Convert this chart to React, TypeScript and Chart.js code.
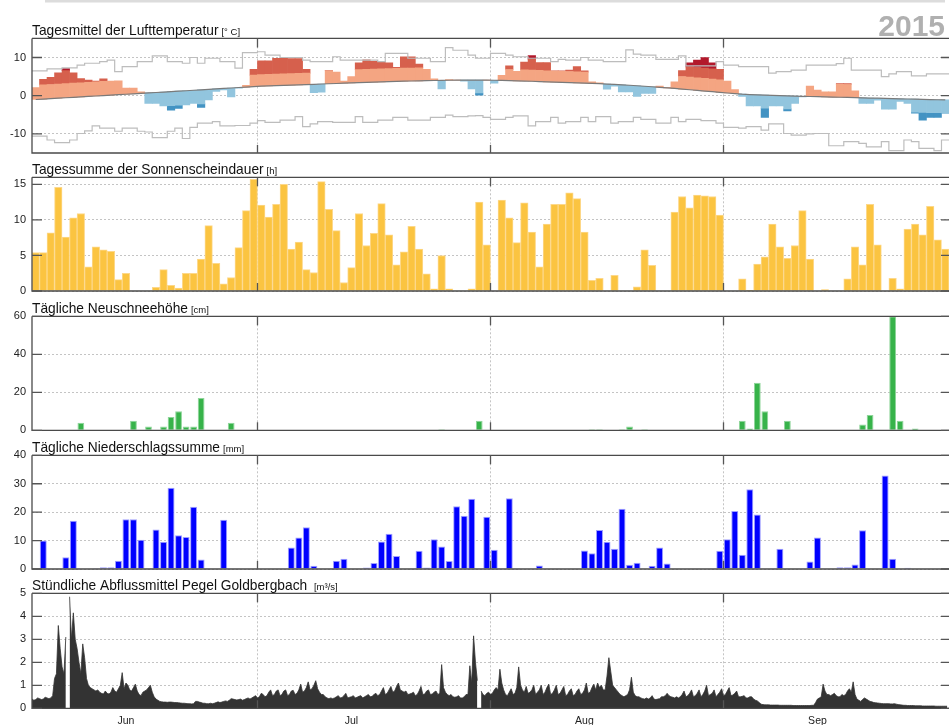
import React, { useEffect, useRef } from 'react';
import { Chart, registerables } from 'chart.js';

Chart.register(...registerables);

const FONT = '"Liberation Sans", Arial, Helvetica, sans-serif';
Chart.defaults.font.family = FONT;

// ---------- axis / calendar ----------
const DAY_COUNT = 122; // 20 May .. 18 Sep 2015
const GRID_DAYS = [30, 61, 92];
const MONTH_LABELS = ['Jun', 'Jul', 'Aug', 'Sep'];
const MONTH_FIRST_DAY = [12, 42, 73, 104];
const YEAR_LABEL = '2015';

// ---------- temperature (°C) ----------
const TEMP_MEAN = [
  2.1, 4.3, 4.8, 6.0, 7.1, 6.0, 4.5, 4.1, 3.8, 4.4,
  3.8, 3.9, 2.0, 2.0, 1.0, -2.0, -2.0, -2.7, -3.8, -3.3,
  -2.4, -2.0, -3.1, -1.1, 1.1, 1.5, -0.3, 2.0, 2.7, 6.9,
  9.1, 9.1, 9.8, 9.9, 9.7, 9.7, 6.9, 0.8, 0.9, 6.6,
  6.2, 3.8, 5.0, 8.6, 9.4, 9.0, 8.9, 8.6, 7.4, 10.2,
  10.2, 8.3, 6.9, 4.4, 1.8, 4.2, 4.1, 3.8, 1.8, 0.0,
  4.1, 3.3, 5.3, 7.8, 6.4, 8.8, 10.5, 8.7, 8.7, 6.5,
  6.5, 6.7, 7.6, 6.5, 3.6, 3.4, 1.7, 2.5, 1.0, 1.0,
  -0.2, 0.6, 0.6, 2.5, 2.2, 3.6, 6.6, 8.6, 9.3, 10.0,
  8.6, 6.9, 3.8, 1.6, -0.2, -2.7, -2.7, -5.7, -2.7, -2.7,
  -4.0, -2.0, -0.3, 2.5, 1.5, 1.0, 1.0, 3.2, 3.2, 1.3,
  -2.0, -2.0, -1.2, -3.5, -3.5, -1.5, -2.0, -4.6, -6.4, -5.7,
  -5.7, -4.6,
];
const TEMP_NORMAL = [
  -1.0, -0.88, -0.77, -0.65, -0.54, -0.42, -0.31, -0.19, -0.08, 0.04,
  0.15, 0.27, 0.38, 0.5, 0.61, 0.73, 0.84, 0.96, 1.07, 1.19,
  1.3, 1.42, 1.54, 1.66, 1.78, 1.9, 2.02, 2.14, 2.26, 2.38,
  2.5, 2.57, 2.64, 2.71, 2.78, 2.85, 2.92, 2.99, 3.06, 3.13,
  3.2, 3.27, 3.34, 3.41, 3.48, 3.55, 3.62, 3.68, 3.74, 3.8,
  3.85, 3.9, 3.94, 3.98, 4.02, 4.05, 4.08, 4.1, 4.1, 4.1,
  4.08, 4.05, 4.0, 3.95, 3.9, 3.84, 3.78, 3.71, 3.64, 3.57,
  3.5, 3.43, 3.36, 3.29, 3.22, 3.14, 3.05, 2.95, 2.84, 2.73,
  2.6, 2.47, 2.34, 2.2, 2.05, 1.9, 1.73, 1.56, 1.39, 1.22,
  1.05, 0.88, 0.71, 0.55, 0.4, 0.3, 0.22, 0.15, 0.08, 0.02,
  -0.04, -0.1, -0.16, -0.21, -0.26, -0.31, -0.36, -0.41, -0.46, -0.51,
  -0.56, -0.61, -0.66, -0.71, -0.76, -0.81, -0.86, -0.91, -0.96, -1.01,
  -1.06, -1.11,
];
const TEMP_UPPER = [
  6.5, 6.5, 7.0, 7.0, 7.3, 7.3, 8.0, 8.5, 8.5, 8.9,
  9.3, 6.3, 7.6, 7.6, 8.9, 8.9, 10.4, 10.4, 8.9, 8.9,
  8.5, 10.0, 8.5, 9.8, 9.8, 8.9, 8.9, 7.2, 11.3, 11.3,
  11.5, 10.6, 10.6, 10.0, 10.0, 10.0, 9.3, 8.9, 8.9, 8.9,
  10.2, 9.3, 9.3, 9.3, 9.3, 9.3, 8.9, 11.1, 11.1, 11.1,
  9.8, 9.8, 9.8, 8.9, 8.9, 12.6, 11.9, 11.9, 10.6, 9.8,
  9.8, 11.1, 11.1, 10.6, 10.2, 10.2, 9.8, 9.8, 9.8, 8.9,
  9.5, 9.3, 9.3, 10.0, 9.3, 9.3, 8.9, 8.9, 8.9, 12.0,
  10.9, 10.6, 10.6, 9.5, 9.5, 9.5, 10.4, 7.8, 7.8, 7.8,
  7.8, 8.9, 8.0, 8.0, 7.6, 7.6, 7.6, 7.6, 5.9, 6.3,
  6.3, 6.7, 6.7, 8.0, 8.0, 8.0, 8.0, 8.4, 9.8, 6.7,
  6.7, 6.7, 6.7, 5.0, 5.7, 6.3, 6.3, 5.2, 5.2, 5.7,
  5.7, 5.7,
];
const TEMP_LOWER = [
  -10.6, -10.6, -11.6, -12.3, -12.3, -11.6, -9.9, -9.2, -7.9, -8.5,
  -8.5, -9.3, -8.5, -8.5, -9.3, -9.5, -11.0, -11.0, -9.3, -8.5,
  -11.2, -8.3, -7.2, -7.2, -6.8, -7.9, -7.9, -7.8, -7.8, -7.2,
  -6.5, -7.0, -7.0, -6.4, -6.4, -5.5, -8.1, -7.4, -6.8, -6.8,
  -7.0, -7.0, -7.0, -5.5, -7.0, -7.0, -6.4, -6.4, -5.7, -5.7,
  -6.4, -6.4, -6.4, -5.7, -5.7, -5.1, -5.5, -5.5, -5.3, -5.2,
  -5.7, -6.2, -6.2, -5.7, -5.3, -5.3, -7.9, -6.8, -6.8, -5.7,
  -7.2, -6.8, -6.8, -5.7, -6.8, -5.5, -5.5, -7.2, -6.8, -6.8,
  -5.7, -6.2, -6.2, -7.2, -7.2, -5.7, -6.8, -6.2, -6.2, -6.5,
  -6.5, -7.2, -8.3, -8.3, -8.5, -8.1, -8.1, -9.0, -7.4, -7.4,
  -9.9, -10.3, -10.3, -10.0, -9.9, -9.9, -13.1, -13.1, -12.0, -12.0,
  -12.5, -13.4, -13.4, -12.0, -14.4, -14.4, -11.6, -12.0, -13.8, -13.8,
  -14.4, -11.6,
];
// anomaly colour bands (inner / outer distance from the normal)
const BAND_START = [0, 28, 38, 61, 81, 96];
const BAND_INNER = [3.7, 3.0, 3.4, 2.9, 3.3, 3.4];
const BAND_OUTER = [7.1, 7.5, 7.5, 5.8, 6.0, 6.8];

// ---------- sunshine (h) ----------
const SUNSHINE = [
  5.4, 5.4, 8.2, 14.6, 7.6, 10.3, 10.9, 3.4, 6.2, 5.8,
  5.6, 1.6, 2.5, 0, 0, 0, 0.5, 3.0, 0.8, 0.4,
  2.5, 2.5, 4.5, 9.2, 3.9, 1.0, 1.9, 6.1, 11.3, 15.7,
  12.1, 10.4, 12.2, 15.0, 5.9, 6.9, 3.0, 2.6, 15.4, 11.5,
  8.5, 1.2, 3.3, 10.9, 6.4, 8.1, 12.3, 7.9, 3.7, 5.5,
  9.1, 5.9, 2.4, 0.3, 5.0, 0.3, 0, 0, 0.3, 12.5,
  6.5, 0, 12.8, 10.3, 6.8, 12.4, 8.3, 3.4, 9.4, 12.2,
  12.2, 13.8, 13.0, 8.3, 1.5, 1.8, 0, 2.2, 0, 0,
  0.6, 5.8, 3.6, 0, 0, 11.1, 13.3, 11.7, 13.5, 13.4,
  13.3, 10.7, 0, 0, 1.7, 0.1, 3.8, 4.8, 9.4, 6.2,
  4.6, 6.4, 11.3, 4.5, 0, 0.2, 0, 0, 1.7, 6.2,
  3.7, 12.2, 6.5, 0, 1.8, 0.3, 8.7, 9.4, 7.9, 11.9,
  7.2, 5.9,
];

// ---------- new snow (cm) ----------
const NEW_SNOW = [
  0, 0, 0, 0, 0, 0, 4, 0, 0, 0,
  0, 0, 0, 5, 0, 2, 0, 2, 7, 10,
  2, 2, 17, 0, 0, 0, 4, 0, 0, 0,
  0, 0, 0, 0, 0, 0, 0, 0, 0, 0,
  0, 0, 0, 0, 0, 0, 0, 0, 0, 0,
  0, 0, 0, 0, 0.5, 0, 0, 0, 0, 5,
  0, 0, 0, 0, 0, 0, 0, 0, 0, 0,
  0, 0, 0, 0, 0.5, 0.5, 0, 0, 0.5, 2,
  0, 0.5, 0, 0, 0, 0, 0, 0, 0, 0,
  0, 0, 0, 0, 5, 1, 25, 10, 0, 0,
  5, 0, 0, 0, 0, 0, 0, 0, 0, 0,
  3, 8, 0, 0, 60, 5, 0, 1, 0, 0,
  0, 0,
];

// ---------- precipitation (mm) ----------
const PRECIP = [
  0, 10.0, 0.2, 0, 4.1, 17.0, 0, 0, 0.3, 0.6,
  0.6, 2.9, 17.5, 17.5, 10.3, 0, 13.9, 9.6, 28.6, 11.9,
  11.3, 21.9, 3.3, 0, 0, 17.3, 0.2, 0, 0, 0,
  0, 0, 0, 0, 7.6, 11.1, 14.7, 1.1, 0, 0.2,
  2.9, 3.6, 0.2, 0, 0.5, 2.1, 9.7, 12.4, 4.6, 0,
  0, 6.4, 0.5, 10.5, 7.9, 2.8, 22.1, 18.7, 24.7, 0,
  18.4, 6.8, 0, 24.9, 0, 0, 0, 1.2, 0, 0,
  0, 0, 0, 6.5, 5.5, 13.7, 9.6, 7.1, 21.2, 1.5,
  2.2, 0, 1.1, 7.6, 1.9, 0, 0, 0, 0, 0,
  0, 6.4, 10.5, 20.4, 5.0, 28.1, 19.2, 0, 0, 7.1,
  0, 0, 0, 2.6, 11.1, 0, 0, 0.6, 0.6, 1.6,
  13.6, 0, 0, 32.9, 3.6, 0, 0.4, 0, 0, 0,
  0, 0,
];

// ---------- discharge (m³/s), 4 values per day (00, 06, 12, 18 h) ----------
const DISCHARGE_6H = [
  0.4, 0.35, 0.38, 0.45, 0.42, 0.38, 0.4, 0.48, 0.45, 0.42, 0.45, 0.55,
  1.3, 1.5, 3.6, 2.6, 1.8, 1.5, 3.1, null, 4.85, 3.0, 4.15, 3.0,
  2.6, 2.0, 1.5, 2.8, 2.2, 1.3, 1.0, 0.9, 0.85, 0.8, 0.75, 0.8,
  0.7, 0.65, 0.62, 0.75, 0.65, 0.62, 0.7, 0.9, 0.75, 0.7, 0.85, 1.0,
  1.55, 0.85, 1.1, 1.0, 0.8, 0.75, 0.9, 1.05, 0.75, 0.6, 0.55, 0.7,
  0.75, 0.8, 0.9, 1.0, 0.7, 0.5, 0.4, 0.35, 0.3, 0.28, 0.27, 0.27,
  0.26, 0.27, 0.27, 0.26, 0.25, 0.25, 0.24, 0.23, 0.22, 0.22, 0.21, 0.2,
  0.2, 0.19, 0.2, 0.3, 0.3, 0.27, 0.25, 0.22, 0.22, 0.2, 0.2, 0.22,
  0.2, 0.22, 0.25, 0.28, 0.25, 0.27, 0.3, 0.32, 0.3, 0.35, 0.42, 0.4,
  0.38, 0.36, 0.38, 0.4, 0.35, 0.38, 0.42, 0.45, 0.4, 0.45, 0.5, 0.55,
  0.45, 0.5, 0.65, 0.6, 0.5, 0.55, 0.7, 0.8, 0.55, 0.6, 0.75, 0.8,
  0.55, 0.6, 0.75, 0.8, 0.55, 0.6, 0.75, 0.78, 0.6, 0.65, 0.8, 1.05,
  0.7, 0.75, 0.9, 1.15, 0.8, 0.85, 1.0, 1.2, 0.85, 0.7, 0.6, 0.6,
  0.5, 0.45, 0.42, 0.45, 0.42, 0.45, 0.5, 0.55, 0.45, 0.47, 0.55, 0.65,
  0.45, 0.48, 0.5, 0.55, 0.45, 0.48, 0.52, 0.55, 0.45, 0.5, 0.55, 0.6,
  0.5, 0.52, 0.6, 0.65, 0.55, 0.6, 0.75, 0.9, 0.6, 0.65, 0.8, 0.95,
  0.7, 0.75, 0.95, 1.1, 0.8, 0.75, 0.7, 0.75, 0.6, 0.62, 0.65, 0.7,
  0.55, 0.6, 0.75, 0.95, 0.6, 0.62, 0.75, 0.8, 0.6, 0.62, 0.7, 0.75,
  0.6, 0.65, 1.9, 0.9, 0.7, 0.6, 0.55, 0.6, 0.5, 0.48, 0.5, 0.55,
  0.45, 0.45, 0.5, 0.6, 0.6, 1.85, 1.1, 3.15, 2.0, 1.2, null, 0.75,
  0.6, 0.55, 0.65, 0.7, 0.6, 0.65, 0.8, 0.9, 0.8, 1.7, 1.1, 0.8,
  0.6, 0.55, 0.7, 0.85, 0.6, 0.65, 0.9, 1.8, 1.0, 0.8, 0.7, 0.95,
  0.65, 0.7, 0.8, 1.0, 0.6, 0.7, 0.8, 1.0, 0.6, 0.7, 0.9, 1.05,
  0.6, 0.65, 0.8, 1.0, 0.6, 0.65, 0.8, 0.95, 0.55, 0.6, 0.75, 0.85,
  0.55, 0.6, 0.75, 0.85, 0.6, 0.65, 0.8, 1.1, 0.65, 0.7, 0.9, 1.05,
  0.8, 1.1, 0.9, 1.0, 0.8, 0.8, 1.4, 2.2, 1.6, 1.0, 0.9, 0.8,
  0.7, 0.6, 0.55, 0.5, 0.55, 0.6, 0.8, 1.35, 0.7, 0.55, 0.5, 0.5,
  0.45, 0.42, 0.4, 0.45, 0.4, 0.45, 0.55, 0.4, 0.38, 0.4, 0.42, 0.5,
  0.5, 0.55, 0.65, 0.55, 0.5, 0.48, 0.45, 0.5, 0.45, 0.5, 0.6, 0.75,
  0.5, 0.55, 0.65, 0.8, 0.5, 0.55, 0.65, 0.8, 0.5, 0.6, 0.75, 1.0,
  0.55, 0.6, 0.65, 0.8, 0.5, 0.6, 0.7, 0.85, 0.55, 0.6, 0.75, 0.9,
  0.55, 0.58, 0.65, 0.75, 0.5, 0.5, 0.52, 0.55, 0.45, 0.45, 0.5, 0.5,
  0.4, 0.35, 0.32, 0.25, 0.18, 0.16, 0.15, 0.15, 0.15, 0.14, 0.14, 0.14,
  0.14, 0.14, 0.13, 0.13, 0.13, 0.13, 0.13, 0.13, 0.13, 0.12, 0.12, 0.12,
  0.12, 0.12, 0.12, 0.12, 0.12, 0.12, 0.12, 0.13, 0.13, 0.25, 0.4, 0.45,
  0.5, 1.05, 0.75, 0.6, 0.6, 0.55, 0.6, 0.65, 0.55, 0.5, 0.5, 0.6,
  0.55, 0.6, 0.75, 0.85, 0.7, 1.15, 0.6, 0.4, 0.35, 0.3, 0.38, 0.45,
  0.4, 0.35, 0.3, 0.28, 0.25, 0.24, 0.23, 0.22, 0.21, 0.2, 0.2, 0.2,
  0.2, 0.19, 0.19, 0.2, 0.18, 0.16, 0.15, 0.14, 0.13, 0.13, 0.12, 0.12,
  0.12, 0.12, 0.11, 0.11, 0.11, 0.11, 0.1, 0.1, 0.1, 0.1, 0.1, 0.1,
  0.1, 0.09, 0.09, 0.09, 0.09, 0.09, 0.09, 0.09,
];

// ---------- helpers ----------
const bandIndex = (d: number) => {
  let k = 0;
  for (let i = 0; i < BAND_START.length; i++) if (d >= BAND_START[i]) k = i;
  return k;
};

const daily = (arr: number[]) => arr.map((v, d) => ({ x: d + 0.5, y: v }));

const barBase = {
  type: 'bar',
  grouped: false,
  barPercentage: 1,
  categoryPercentage: 1,
  borderWidth: 0,
  xAxisID: 'x',
  yAxisID: 'y',
  order: 3,
};

function temperatureDatasets() {
  const lp: any[] = [], dp: any[] = [], xp: any[] = [], ln: any[] = [], dn: any[] = [], xn: any[] = [];
  TEMP_MEAN.forEach((t, d) => {
    const n = TEMP_NORMAL[d];
    const k = bandIndex(d);
    const s1 = BAND_INNER[k];
    const s2 = BAND_OUTER[k];
    const x = d + 0.5;
    lp.push({ x, y: t > n ? [n, Math.min(t, n + s1)] : null });
    dp.push({ x, y: t > n + s1 ? [n + s1, Math.min(t, n + s2)] : null });
    xp.push({ x, y: t > n + s2 ? [n + s2, t] : null });
    ln.push({ x, y: t < n ? [Math.max(t, n - s1), n] : null });
    dn.push({ x, y: t < n - s1 ? [Math.max(t, n - s2), n - s1] : null });
    xn.push({ x, y: t < n - s2 ? [t, n - s2] : null });
  });
  const step = (arr: number[]) => [
    ...arr.map((v, d) => ({ x: d, y: v })),
    { x: DAY_COUNT, y: arr[arr.length - 1] },
  ];
  const lineBase = { type: 'line', pointRadius: 0, fill: false, xAxisID: 'x', yAxisID: 'y', tension: 0 };
  return [
    { ...barBase, data: lp, backgroundColor: '#f4a582' },
    { ...barBase, data: dp, backgroundColor: '#d6604d' },
    { ...barBase, data: xp, backgroundColor: '#b2182b' },
    { ...barBase, data: ln, backgroundColor: '#92c5de' },
    { ...barBase, data: dn, backgroundColor: '#4393c3' },
    { ...barBase, data: xn, backgroundColor: '#2166ac' },
    { ...lineBase, data: step(TEMP_UPPER), stepped: true, borderColor: '#bdbdbd', borderWidth: 1.2, order: 1 },
    { ...lineBase, data: step(TEMP_LOWER), stepped: true, borderColor: '#bdbdbd', borderWidth: 1.2, order: 1 },
    { ...lineBase, data: daily(TEMP_NORMAL), borderColor: '#7a7a7a', borderWidth: 1.2, order: 0 },
  ];
}

type Panel = {
  id: string;
  top: number;
  height: number;
  plotTop: number;
  plotBottom: number;
  title: string;
  unit: string;
  yMin: number;
  yMax: number;
  yTicks: number[];
  type: 'bar' | 'line';
  months: boolean;
  year: boolean;
  datasets: () => any[];
};

const PANELS: Panel[] = [
  {
    id: 'temp', top: 0, height: 160, plotTop: 38.4, plotBottom: 153,
    title: 'Tagesmittel der Lufttemperatur', unit: '[° C]',
    yMin: -15, yMax: 15, yTicks: [-10, 0, 10], type: 'bar', months: false, year: true,
    datasets: temperatureDatasets,
  },
  {
    id: 'sun', top: 160, height: 138, plotTop: 177.3, plotBottom: 291,
    title: 'Tagessumme der Sonnenscheindauer', unit: '[h]',
    yMin: 0, yMax: 16, yTicks: [0, 5, 10, 15], type: 'bar', months: false, year: false,
    datasets: () => [{ ...barBase, data: daily(SUNSHINE), backgroundColor: '#fbc441', borderColor: '#fdd88a', borderWidth: 1 }],
  },
  {
    id: 'snow', top: 298, height: 140, plotTop: 316.3, plotBottom: 430.3,
    title: 'Tägliche Neuschneehöhe', unit: '[cm]',
    yMin: 0, yMax: 60, yTicks: [0, 20, 40, 60], type: 'bar', months: false, year: false,
    datasets: () => [{ ...barBase, barPercentage: 0.9, data: daily(NEW_SNOW), backgroundColor: '#37b34a', borderColor: '#8fd59a', borderWidth: 1 }],
  },
  {
    id: 'prec', top: 438, height: 137, plotTop: 455.3, plotBottom: 569,
    title: 'Tägliche Niederschlagssumme', unit: '[mm]',
    yMin: 0, yMax: 40, yTicks: [0, 10, 20, 30, 40], type: 'bar', months: false, year: false,
    datasets: () => [{ ...barBase, barPercentage: 0.93, data: daily(PRECIP), backgroundColor: '#0000ff', borderColor: '#a0a0ff', borderWidth: 1 }],
  },
  {
    id: 'flow', top: 575, height: 150, plotTop: 593.3, plotBottom: 708.3,
    title: 'Stündliche Abflussmittel Pegel Goldbergbach ', unit: '[m³/s]',
    yMin: 0, yMax: 5, yTicks: [0, 1, 2, 3, 4, 5], type: 'line', months: true, year: false,
    datasets: () => [{
      type: 'line',
      data: DISCHARGE_6H.map((v, k) => ({ x: k / 4, y: v })),
      fill: 'origin',
      backgroundColor: '#333333',
      borderColor: '#333333',
      borderWidth: 0.8,
      pointRadius: 0,
      tension: 0,
      spanGaps: false,
      xAxisID: 'x',
      yAxisID: 'y',
    }],
  },
];

function decorPlugin(p: Panel) {
  return {
    id: 'decor_' + p.id,
    afterDatasetsDraw(chart: any) {
      const { ctx, chartArea: a, scales } = chart;
      const xs = scales.x;
      const ys = scales.y;
      ctx.save();
      // frame
      ctx.strokeStyle = '#4a4a4a';
      ctx.lineWidth = 1.3;
      ctx.beginPath();
      ctx.moveTo(a.left, a.top);
      ctx.lineTo(a.right, a.top);
      ctx.moveTo(a.left, a.top);
      ctx.lineTo(a.left, a.bottom);
      ctx.lineTo(a.right, a.bottom);
      ctx.stroke();
      // inward y tick marks
      ctx.strokeStyle = '#555';
      ctx.lineWidth = 1.3;
      ctx.beginPath();
      for (const v of p.yTicks) {
        const y = ys.getPixelForValue(v);
        ctx.moveTo(a.left, y);
        ctx.lineTo(a.left + 10, y);
        ctx.moveTo(a.right - 8, y);
        ctx.lineTo(a.right, y);
      }
      // tick marks on the vertical grid lines
      for (const d of GRID_DAYS) {
        const x = xs.getPixelForValue(d);
        ctx.moveTo(x, a.top);
        ctx.lineTo(x, a.top + 9);
        ctx.moveTo(x, a.bottom - 8);
        ctx.lineTo(x, a.bottom);
      }
      ctx.stroke();
      // title
      ctx.fillStyle = '#111';
      ctx.textAlign = 'left';
      ctx.textBaseline = 'alphabetic';
      ctx.font = `13.75px ${FONT}`;
      const ty = a.top - 3.7;
      ctx.fillText(p.title, 32, ty);
      const w = ctx.measureText(p.title).width;
      ctx.font = `9.5px ${FONT}`;
      ctx.fillText(p.unit, 32 + w + 3, ty);
      if (p.year) {
        ctx.fillStyle = '#dcdcdc';
        ctx.fillRect(45, 0, 900, 2.5);
        ctx.fillStyle = '#b0b0b0';
        ctx.font = `bold 30px ${FONT}`;
        ctx.textAlign = 'right';
        ctx.fillText(YEAR_LABEL, 945, 36);
      }
      ctx.restore();
    },
  };
}

function buildConfig(p: Panel) {
  const bottomArea = p.top + p.height - p.plotBottom;
  return {
    type: p.type,
    data: { datasets: p.datasets() },
    options: {
      responsive: false,
      maintainAspectRatio: false,
      animation: false,
      devicePixelRatio: 1,
      events: [],
      layout: {
        autoPadding: false,
        padding: {
          top: p.plotTop - p.top,
          bottom: p.months ? 0 : bottomArea,
          left: 0,
          right: 0,
        },
      },
      plugins: { legend: { display: false }, tooltip: { enabled: false }, title: { display: false } },
      scales: {
        x: {
          type: 'linear',
          position: 'bottom',
          min: 0,
          max: DAY_COUNT,
          offset: false,
          display: p.months,
          grid: { display: false, drawTicks: false, offset: false },
          border: { display: false },
          afterBuildTicks: (s: any) => {
            s.ticks = MONTH_FIRST_DAY.map((d) => ({ value: d + 0.5 }));
          },
          ticks: {
            autoSkip: false,
            maxRotation: 0,
            padding: 6.5,
            color: '#222',
            font: { size: 10.5 },
            callback: (_v: any, i: number) => MONTH_LABELS[i],
          },
          afterFit: (s: any) => {
            s.height = p.months ? bottomArea : 0;
            s.paddingLeft = 0;
            s.paddingRight = 0;
          },
        },
        xg: {
          type: 'linear',
          position: 'bottom',
          min: 0,
          max: DAY_COUNT,
          offset: false,
          display: true,
          ticks: { display: false },
          grid: { color: '#c4c4c4', lineWidth: 1, drawTicks: false, offset: false },
          border: { display: false, dash: [2, 2] },
          afterBuildTicks: (s: any) => {
            s.ticks = GRID_DAYS.map((d) => ({ value: d }));
          },
          afterFit: (s: any) => {
            s.height = 0;
            s.paddingLeft = 0;
            s.paddingRight = 0;
          },
        },
        y: {
          type: 'linear',
          position: 'left',
          min: p.yMin,
          max: p.yMax,
          afterBuildTicks: (s: any) => {
            s.ticks = p.yTicks.map((v) => ({ value: v }));
          },
          ticks: { autoSkip: false, padding: 6, color: '#222', font: { size: 11 } },
          grid: { color: '#c4c4c4', lineWidth: 1, drawTicks: false },
          border: { display: false, dash: [2, 2] },
          afterFit: (s: any) => {
            s.width = 32;
            s.paddingTop = 0;
            s.paddingBottom = 0;
          },
        },
      },
    },
    plugins: [decorPlugin(p)],
  } as any;
}

function PanelChart({ spec }: { spec: Panel }) {
  const ref = useRef<HTMLCanvasElement | null>(null);
  useEffect(() => {
    if (!ref.current) return;
    const chart = new Chart(ref.current, buildConfig(spec));
    return () => chart.destroy();
  }, [spec]);
  return (
    <canvas
      ref={ref}
      width={949}
      height={spec.height}
      style={{ position: 'absolute', left: 0, top: spec.top, width: 949, height: spec.height, display: 'block' }}
    />
  );
}

export default function App() {
  return (
    <div style={{ position: 'absolute', left: 0, top: 0, width: 949, height: 725, background: '#fff', overflow: 'hidden' }}>
      {PANELS.map((p) => (
        <PanelChart key={p.id} spec={p} />
      ))}
    </div>
  );
}
